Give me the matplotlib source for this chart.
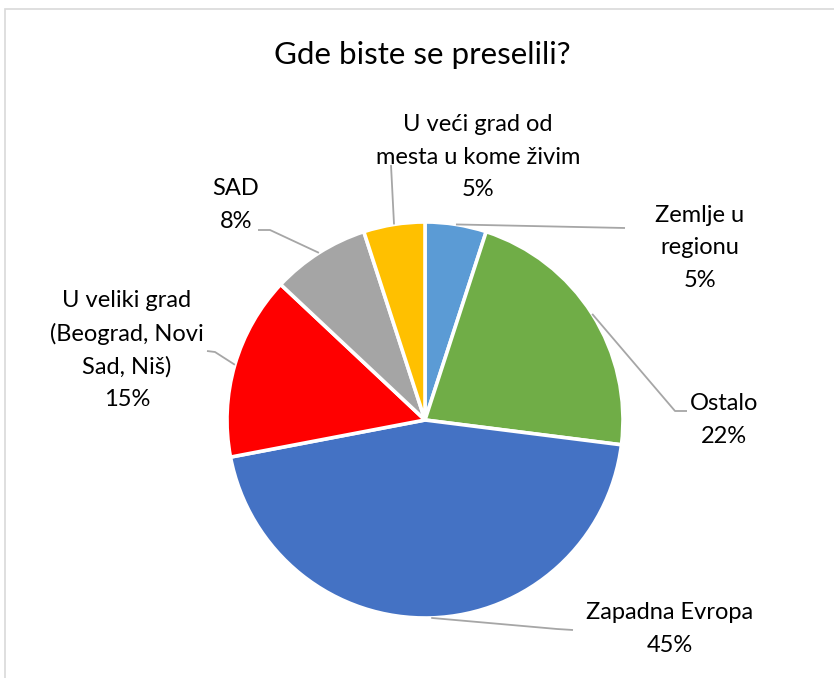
import numpy as np
import matplotlib
matplotlib.use("Agg")
import matplotlib.pyplot as plt
from matplotlib.patches import Rectangle

plt.rcParams['font.family'] = ['Lato', 'DejaVu Sans']

# Data, clockwise from 12 o'clock
categories = [
    "Zemlje u\nregionu",
    "Ostalo",
    "Zapadna Evropa",
    "U veliki grad\n(Beograd, Novi\nSad, Niš)",
    "SAD",
    "U veći grad od\nmesta u kome živim",
]
values = [5, 22, 45, 15, 8, 5]
colors = ["#5B9BD5", "#70AD47", "#4472C4", "#FF0000", "#A5A5A5", "#FFC000"]
title = "Gde biste se preselili?"

W, H = 834, 678
fig = plt.figure(figsize=(W / 100, H / 100), dpi=100)
ax = fig.add_axes([0, 0, 1, 1])


def Y(y):
    # work in top-down pixel rows
    return H - y


cx, cy, R = 425, Y(420), 198
wedges, _ = ax.pie(values, colors=colors, startangle=90, counterclock=False,
                   center=(cx, cy), radius=R,
                   wedgeprops=dict(edgecolor="white", linewidth=2.6))
ax.set_xlim(0, W)
ax.set_ylim(0, H)
ax.axis("off")

# label layout: text centre, leader path (after the wedge anchor)
layout = [
    dict(xy=(700, 248), path=[(625, 228)]),
    dict(xy=(724, 420), path=[(675, 411), (687, 411)]),
    dict(xy=(670, 629), path=[(557, 629), (573, 630)]),
    dict(xy=(127, 350), path=[(215, 352), (207, 351)]),
    dict(xy=(236, 205), path=[(270, 230), (258, 230)]),
    dict(xy=(478, 157), path=[(391, 165)]),
]

lead_col = "#A6A6A6"
for w, cat, v, lay in zip(wedges, categories, values, layout):
    mid = np.deg2rad((w.theta1 + w.theta2) / 2)
    ax_, ay_ = cx + R * np.cos(mid), cy + R * np.sin(mid)
    xs = [ax_] + [p[0] for p in lay["path"]]
    ys = [ay_] + [Y(p[1]) for p in lay["path"]]
    ax.plot(xs, ys, color=lead_col, lw=1.3, solid_capstyle="butt", zorder=1)
    tx, ty = lay["xy"]
    ax.text(tx, Y(ty), f"{cat}\n{v:.0f}%", ha="center", va="center",
            fontsize=17, color="#000000", linespacing=1.65, zorder=3)

ax.text(422, Y(55), title, ha="center", va="center", fontsize=22.5,
        color="#000000")

# chart area border
ax.add_patch(Rectangle((5, Y(9) - 2000), 2000, 2000, fill=False,
                       edgecolor="#D9D9D9", lw=1.2, clip_on=False))

fig.savefig("out.png", dpi=100, facecolor="white")
